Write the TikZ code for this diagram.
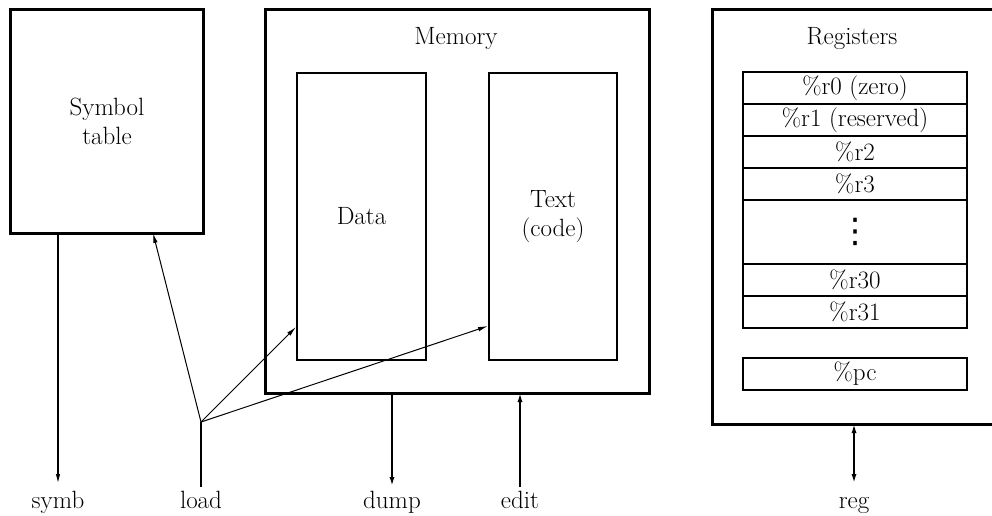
\documentclass[tikz,border=0pt]{standalone}
\usepackage{fontspec}
\newfontfamily\dejavusans{DejaVu Sans}
\usetikzlibrary{arrows.meta}
\begin{document}
\begin{tikzpicture}[x=1pt,y=-1pt,
  every node/.style={font=\fontsize{25}{29}\selectfont},
  bigbox/.style={draw,line width=3pt,inner sep=0pt,anchor=north west},
  inbox/.style={draw,line width=2pt,inner sep=0pt,anchor=north west},
  regrow/.style={draw,line width=2pt,inner sep=0pt,minimum width=224pt,minimum height=32pt},
  lbl/.style={inner sep=0pt,anchor=base},
  thinarr/.style={line width=1pt,-{Latex[length=10pt,width=4.5pt]}},
  thickarr/.style={line width=2.5pt,-{Latex[length=10pt,width=5pt]}},
  thickline/.style={line width=2.5pt}
]
\useasboundingbox (0,0) rectangle (992,516);
\clip (0,0) rectangle (992,516);
% Symbol table
\node[bigbox,minimum width=193pt,minimum height=224pt,align=center] (sym) at (9,8) {Symbol\\table};
% Memory
\node[bigbox,minimum width=384pt,minimum height=384pt] (mem) at (264,8) {};
\node[inner sep=0pt] (memlbl) at (456,39) {Memory};
\node[inbox,minimum width=129pt,minimum height=287pt] (data) at (296,72) {Data};
\node[inbox,minimum width=128pt,minimum height=287pt,align=center] (text) at (488,72) {Text\\(code)};
% Registers
\node[bigbox,minimum width=320pt,minimum height=415pt] (regs) at (711,8) {};
\node[inner sep=0pt] (reglbl) at (852,39) {Registers};
\node[regrow] (r0) at (855,88) {\%r0 (zero)};
\node[regrow] (r1) at (855,120) {\%r1 (reserved)};
\node[regrow] (r2) at (855,152) {\%r2};
\node[regrow] (r3) at (855,184) {\%r3};
\node[regrow,minimum height=64pt,font=\dejavusans\fontsize{34}{34}\selectfont] (rdots) at (855,232) {⋮};
\node[regrow] (r30) at (855,280) {\%r30};
\node[regrow] (r31) at (855,312) {\%r31};
\node[regrow] (pc) at (855,374) {\%pc};
% bottom labels
\node[lbl] (symb) at (58,508) {symb};
\node[lbl] (load) at (201,508) {load};
\node[lbl] (dump) at (392,508) {dump};
\node[lbl] (edit) at (520,508) {edit};
\node[lbl] (reg) at (854,508) {reg};
% connector points
\coordinate (symbtop) at (58,232);
\coordinate (symbend) at (58,484);
\coordinate (loadend) at (201,487);
\coordinate (loadj) at (201,422);
\coordinate (symin) at (153,233);
\coordinate (datain) at (296,327);
\coordinate (textin) at (488,326);
\coordinate (dumptop) at (392,392);
\coordinate (dumpend) at (392,487);
\coordinate (edittop) at (520,392);
\coordinate (editend) at (520,487);
\coordinate (regtop) at (854,423);
\coordinate (regend) at (854,484);
% connectors
\draw[thinarr,line width=1.5pt] (symbtop) -- (symbend);
\draw[line width=1.5pt] (loadend) -- (loadj);
\draw[thinarr] (loadj) -- (symin);
\draw[thinarr] (loadj) -- (datain);
\draw[thinarr] (loadj) -- (textin);
\draw[thickarr] (dumptop) -- (dumpend);
\draw[thickarr] (editend) -- (edittop);
\draw[thickline,{Latex[length=10pt,width=5pt]}-{Latex[length=10pt,width=5pt]}] (regtop) -- (regend);
\end{tikzpicture}
\end{document}
